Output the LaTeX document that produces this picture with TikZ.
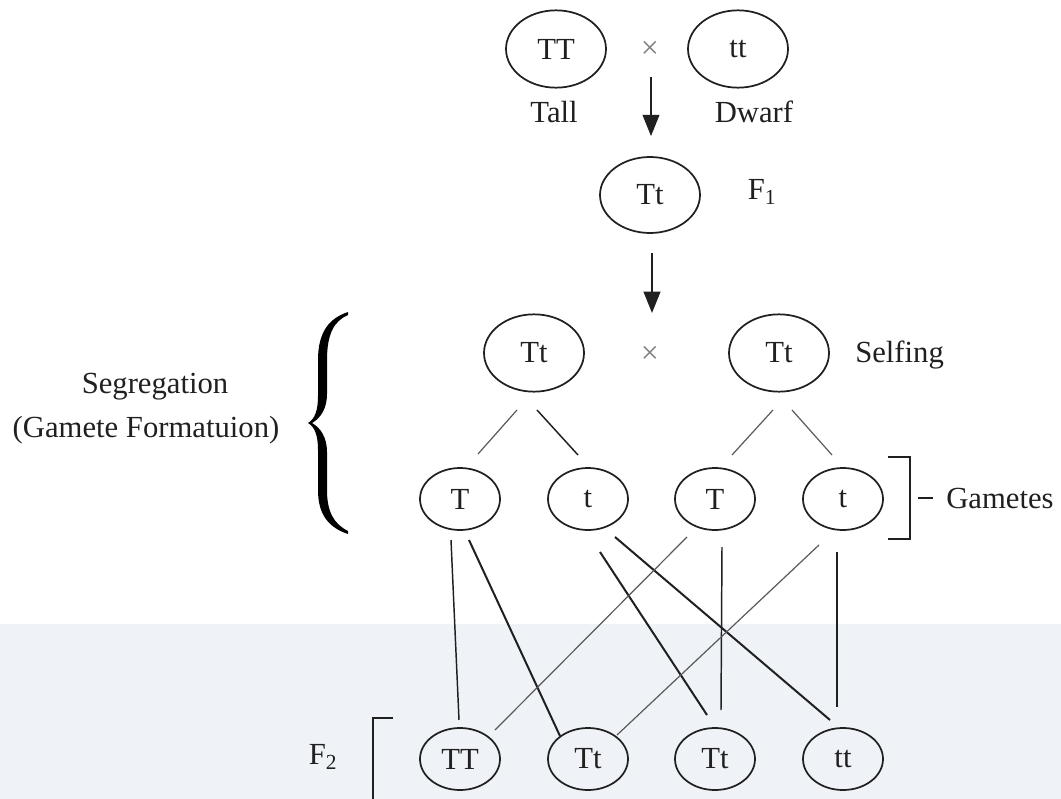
\documentclass[tikz,border=0pt]{standalone}
\usepackage{fontspec}
\setmainfont{Liberation Serif}
\usetikzlibrary{shapes.geometric,arrows.meta,calc}
\definecolor{bandcol}{RGB}{239,243,248}
\definecolor{inkcol}{RGB}{32,32,32}
\begin{document}
\begin{tikzpicture}[x=0.75pt,y=-0.75pt,
  font=\fontsize{23}{27}\selectfont,
  ell/.style={draw=inkcol,line width=1.3pt,ellipse,inner sep=0pt,text=inkcol},
  bigell/.style={ell,minimum width=75pt,minimum height=58pt},
  smallell/.style={ell,minimum width=60pt,minimum height=46.5pt},
  lbl/.style={inner sep=0pt,text=inkcol},
  crossmark/.style={inner sep=0pt,text=gray,font=\fontsize{24}{28}\selectfont},
  linkm/.style={draw=inkcol,line width=1.1pt},
  linkd/.style={draw=inkcol,line width=1.5pt},
  linkt/.style={draw=black!65,line width=0.9pt},
  arr/.style={draw=inkcol,line width=1.5pt,-{Triangle[length=16pt,width=12.5pt]}},
  brk/.style={draw=inkcol,line width=1.4pt}]
\useasboundingbox (0,0) rectangle (1061,799);
\fill[bandcol] (0,624) rectangle (1061,799);

% parents
\node[bigell] (p1) at (556,49) {TT};
\node[bigell] (p2) at (738,49) {tt};
\node[crossmark] (x1) at (650,50) {×};
\node[lbl] (tall) at (554,112) {Tall};
\node[lbl] (dwarf) at (754,112) {Dwarf};

% F1
\node[bigell,minimum height=57pt] (f1) at (650,195) {Tt};
\node[lbl] (f1lab) at (762,192) {F\textsubscript{1}};
\draw[arr] ($(x1)+(1,27)$) -- ($(f1.north)+(1,-20)$);

% selfing
\node[bigell] (s1) at (534,353) {Tt};
\node[bigell] (s2) at (779,353) {Tt};
\node[crossmark] (x2) at (650,355) {×};
\node[lbl,anchor=west] (selfing) at (855,355) {Selfing};
\draw[arr] ($(f1.south)+(2,19)$) -- ($(x2)+(2,-42)$);

% gametes
\node[smallell] (g1) at (460,499) {T};
\node[smallell] (g2) at (588,499) {t};
\node[smallell] (g3) at (715,499) {T};
\node[smallell] (g4) at (843,499) {t};

\draw[linkt] ($(s1)+(-17,57)$) -- ($(g1)+(18,-45)$);
\draw[linkm] ($(s1)+(3,57)$) -- ($(g2)+(-10,-44)$);
\draw[linkt] ($(s2)+(-6,57)$) -- ($(g3)+(17,-44)$);
\draw[linkt] ($(s2)+(13,57)$) -- ($(g4)+(-11,-44)$);

% gametes bracket
\draw[brk] (888,457) -- (910,457) -- (910,539) -- (888,539);
\draw[brk] (918,498) -- (933,498);
\node[lbl,anchor=west] (gam) at (946,498) {Gametes};

% segregation brace
\fill[black] (348,312) .. controls (330,318) and (318,331) .. (318,360) -- (318,396)
   .. controls (318,410) and (315,419) .. (308,423)
   .. controls (315,427) and (318,436) .. (318,450) -- (318,490)
   .. controls (318,516) and (330,528) .. (348,534)
   -- (348,531) .. controls (334,524) and (327,512) .. (327,490) -- (327,452)
   .. controls (327,438) and (321,428) .. (312,423)
   .. controls (321,418) and (327,408) .. (327,394) -- (327,360)
   .. controls (327,334) and (334,321) .. (348,315) -- cycle;
\node[lbl] (seg) at (155,387) {Segregation};
\node[lbl] (gf) at (146,430) {(Gamete Formatuion)};

% F2
\node[smallell] (c1) at (460,759) {TT};
\node[smallell] (c2) at (588,759) {Tt};
\node[smallell] (c3) at (715,759) {Tt};
\node[smallell] (c4) at (843,759) {tt};
\node[lbl] (f2lab) at (323,757) {F\textsubscript{2}};
\draw[brk] (393,718) -- (373,718) -- (373,799);

% crosses
\draw[linkm] ($(g1)+(-9,41)$) -- ($(c1)+(-1,-39)$);
\draw[linkd] ($(g1)+(9,41)$) -- ($(c2)+(-28,-23)$);
\draw[linkd] ($(g2)+(12,53)$) -- ($(c3)+(-8,-44)$);
\draw[linkd] ($(g2)+(27,38)$) -- ($(c4)+(-13,-39)$);
\draw[linkt] ($(g3)+(-28,38)$) -- ($(c1)+(35,-29)$);
\draw[linkm] ($(g3)+(7,48)$) -- ($(c3)+(6,-49)$);
\draw[linkt] ($(g4)+(-24,46)$) -- ($(c2)+(29,-24)$);
\draw[linkm] ($(g4)+(-6,53)$) -- ($(c4)+(-6,-52)$);
\end{tikzpicture}
\end{document}
